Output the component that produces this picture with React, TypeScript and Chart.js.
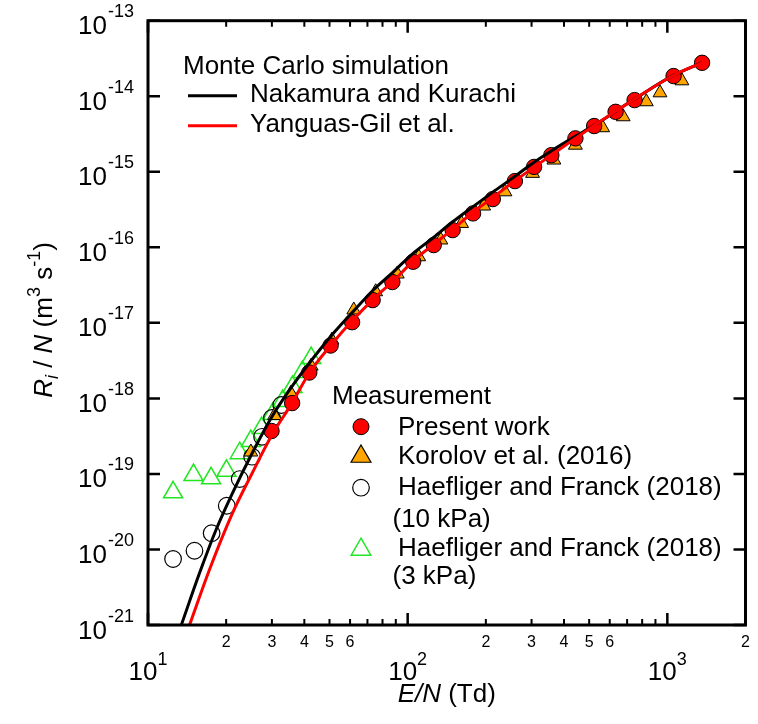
import React, { useEffect, useRef } from "react";
import { Chart, registerables } from "chart.js";

Chart.register(...registerables);

// ---------- Data ----------
const presentE = [29.9, 35.9, 41.8, 50.5, 61.1, 73.3, 87.3, 105, 126, 149, 178.6, 212.8, 258.8, 306.8, 357.5, 442.6, 522.6, 632, 748, 1057, 1361];
const presentR = [3.7e-19, 8.67e-19, 2.2e-18, 5.01e-18, 1.02e-17, 2.0e-17, 3.47e-17, 6.44e-17, 1.07e-16, 1.69e-16, 2.81e-16, 4.35e-16, 7.53e-16, 1.16e-15, 1.66e-15, 2.77e-15, 4.03e-15, 6.22e-15, 8.89e-15, 1.85e-14, 2.77e-14];

const korolovE = [24.9, 30.7, 35.5, 42.5, 51.1, 62.0, 75.3, 91.2, 110.3, 134.2, 161.3, 196.2, 237, 302.7, 365.7, 442.4, 563.6, 676, 830, 937, 1138];
const korolovR = [1.95e-19, 5.93e-19, 1.17e-18, 2.68e-18, 5.92e-18, 1.48e-17, 2.58e-17, 4.43e-17, 7.5e-17, 1.25e-16, 2.07e-16, 3.52e-16, 5.43e-16, 9.53e-16, 1.43e-15, 2.25e-15, 3.83e-15, 5.35e-15, 8.45e-15, 1.11e-14, 1.6e-14];

const haef10E = [12.49, 15.1, 17.58, 20.1, 22.55, 25.18, 27.5, 30.0, 32.6];
const haef10R = [7.48e-21, 9.62e-21, 1.64e-20, 3.79e-20, 8.55e-20, 1.69e-19, 3.1e-19, 5.5e-19, 8.17e-19];

const haef3E = [12.49, 14.97, 17.49, 20.05, 22.55, 24.9, 27.4, 30.2, 33.0, 36.0, 39.3, 42.5];
const haef3R = [5.7e-20, 9.66e-20, 8.75e-20, 1.1e-19, 1.88e-19, 2.72e-19, 4.05e-19, 6.2e-19, 9.2e-19, 1.41e-18, 2.23e-18, 3.42e-18];

const nakE = [13.44, 15.78, 18.27, 21.13, 25.18, 30.0, 35.8, 43.9, 52.24, 61.87, 73.74, 87.86, 104.7, 125.8, 148.6, 178.6, 212.8, 258.1, 304.8, 356.8, 440.4, 524.8, 745, 1058, 1355];
const nakR = [1e-21, 4.83e-21, 1.81e-20, 5.53e-20, 1.88e-19, 5.71e-19, 1.43e-18, 3.64e-18, 7.55e-18, 1.43e-17, 2.72e-17, 4.7e-17, 8.26e-17, 1.35e-16, 2.16e-16, 3.46e-16, 5.38e-16, 8.63e-16, 1.32e-15, 1.88e-15, 2.92e-15, 4.15e-15, 9.1e-15, 1.9e-14, 2.77e-14];

const yangE = [14.45, 17.23, 21.13, 25.18, 30.0, 35.8, 41.8, 50.7, 61.5, 74.5, 88.8, 105.9, 126.2, 150.4, 179.2, 213.6, 261.3, 349, 442.6, 628, 1063, 1361];
const yangR = [1e-21, 5.35e-21, 3.0e-20, 1.02e-19, 3.27e-19, 8.59e-19, 2.17e-18, 5.08e-18, 1.09e-17, 2.13e-17, 3.68e-17, 6.78e-17, 1.1e-16, 1.78e-16, 2.93e-16, 4.62e-16, 7.76e-16, 1.57e-15, 2.77e-15, 6.22e-15, 1.91e-14, 2.77e-14];

// ---------- Ticks ----------
const yMajorTicks = [1e-21, 1e-20, 1e-19, 1e-18, 1e-17, 1e-16, 1e-15, 1e-14, 1e-13];
const yMajorExps = ["-21", "-20", "-19", "-18", "-17", "-16", "-15", "-14", "-13"];
const xMajorTicks = [10, 100, 1000];
const xMajorExps = ["1", "2", "3"];
const xMinorTicks = [20, 30, 40, 50, 60, 70, 80, 90, 200, 300, 400, 500, 600, 700, 800, 900, 2000];
const xMinorLabels = ["2", "3", "4", "5", "6", "", "", "", "2", "3", "4", "5", "6", "", "", "", "2"];

const FONT = '"Liberation Sans", Arial, Helvetica, sans-serif';

const toXY = (xs: number[], ys: number[]) => xs.map((x, i) => ({ x, y: ys[i] }));

function drawCircle(ctx: CanvasRenderingContext2D, x: number, y: number, r: number, fill: string | null, stroke: string, lw: number) {
  ctx.beginPath();
  ctx.arc(x, y, r, 0, Math.PI * 2);
  if (fill) { ctx.fillStyle = fill; ctx.fill(); }
  ctx.lineWidth = lw; ctx.strokeStyle = stroke; ctx.stroke();
}
function drawTri(ctx: CanvasRenderingContext2D, x: number, y: number, r: number, fill: string | null, stroke: string, lw: number) {
  ctx.beginPath();
  let a = 0;
  ctx.moveTo(x + Math.sin(a) * r, y - Math.cos(a) * r);
  a += (2 * Math.PI) / 3;
  ctx.lineTo(x + Math.sin(a) * r, y - Math.cos(a) * r);
  a += (2 * Math.PI) / 3;
  ctx.lineTo(x + Math.sin(a) * r, y - Math.cos(a) * r);
  ctx.closePath();
  if (fill) { ctx.fillStyle = fill; ctx.fill(); }
  ctx.lineWidth = lw; ctx.strokeStyle = stroke; ctx.stroke();
}

const decorPlugin = {
  id: "decor",
  afterDatasetsDraw(chart: any) {
    const ctx: CanvasRenderingContext2D = chart.ctx;
    const { left, right, top, bottom } = chart.chartArea;
    const xs = chart.scales.x;
    const ys = chart.scales.y;
    ctx.save();
    ctx.strokeStyle = "#000";
    ctx.lineWidth = 3;
    ctx.strokeRect(left, top, right - left, bottom - top);

    ctx.lineWidth = 2.5;
    ctx.beginPath();
    yMajorTicks.forEach((v) => {
      const py = ys.getPixelForValue(v);
      ctx.moveTo(left, py); ctx.lineTo(left + 12, py);
      ctx.moveTo(right, py); ctx.lineTo(right - 12, py);
    });
    xMajorTicks.forEach((v) => {
      const px = xs.getPixelForValue(v);
      ctx.moveTo(px, bottom); ctx.lineTo(px, bottom - 12);
      ctx.moveTo(px, top); ctx.lineTo(px, top + 12);
    });
    ctx.stroke();
    ctx.lineWidth = 2;
    ctx.beginPath();
    xMinorTicks.forEach((v) => {
      const px = xs.getPixelForValue(v);
      ctx.moveTo(px, bottom); ctx.lineTo(px, bottom - 6);
      ctx.moveTo(px, top); ctx.lineTo(px, top + 6);
    });
    ctx.stroke();

    ctx.fillStyle = "#000";
    ctx.textBaseline = "alphabetic";
    ctx.textAlign = "left";

    yMajorTicks.forEach((v, i) => {
      const py = ys.getPixelForValue(v);
      ctx.font = `18px ${FONT}`;
      const sw = ctx.measureText(yMajorExps[i]).width;
      ctx.font = `26px ${FONT}`;
      const bw = ctx.measureText("10").width;
      const rx = 134;
      ctx.fillText("10", rx - sw - 1 - bw, py + 13.5);
      ctx.font = `18px ${FONT}`;
      ctx.fillText(yMajorExps[i], rx - sw, py - 3.5);
    });

    xMajorTicks.forEach((v, i) => {
      const px = xs.getPixelForValue(v);
      ctx.font = `26px ${FONT}`;
      const bw = ctx.measureText("10").width;
      ctx.font = `18px ${FONT}`;
      const sw = ctx.measureText(xMajorExps[i]).width;
      const x0 = px - (bw + sw) / 2;
      ctx.font = `26px ${FONT}`;
      ctx.fillText("10", x0, 680);
      ctx.font = `18px ${FONT}`;
      ctx.fillText(xMajorExps[i], x0 + bw, 665);
    });

    ctx.font = `16px ${FONT}`;
    ctx.textAlign = "center";
    xMinorTicks.forEach((v, i) => {
      if (!xMinorLabels[i]) return;
      const px = xs.getPixelForValue(v);
      ctx.fillText(xMinorLabels[i], px, 647);
    });

    ctx.textAlign = "left";
    ctx.font = `italic 26px ${FONT}`;
    const w1 = ctx.measureText("E/N").width;
    ctx.font = `26px ${FONT}`;
    const w2 = ctx.measureText(" (Td)").width;
    const cx = (left + right) / 2;
    const tx0 = cx - (w1 + w2) / 2;
    ctx.font = `italic 26px ${FONT}`;
    ctx.fillText("E/N", tx0, 701.5);
    ctx.font = `26px ${FONT}`;
    ctx.fillText(" (Td)", tx0 + w1, 701.5);

    const segs: [string, string, number][] = [
      ["R", `italic 26px ${FONT}`, 0],
      ["i", `italic 18px ${FONT}`, 6],
      [" / ", `26px ${FONT}`, 0],
      ["N", `italic 26px ${FONT}`, 0],
      [" (m", `26px ${FONT}`, 0],
      ["3", `18px ${FONT}`, -12],
      [" s", `26px ${FONT}`, 0],
      ["-1", `18px ${FONT}`, -12],
      [")", `26px ${FONT}`, 0],
    ];
    let total = 0;
    segs.forEach(([t, f]) => { ctx.font = f; total += ctx.measureText(t).width; });
    ctx.save();
    ctx.translate(51.5, 320);
    ctx.rotate(-Math.PI / 2);
    let sx = -total / 2;
    segs.forEach(([t, f, dy]) => {
      ctx.font = f;
      ctx.fillText(t, sx, dy);
      sx += ctx.measureText(t).width;
    });
    ctx.restore();

    ctx.font = `26px ${FONT}`;
    ctx.fillText("Monte Carlo simulation", 183, 73.5);
    ctx.lineWidth = 3;
    ctx.strokeStyle = "#000";
    ctx.beginPath(); ctx.moveTo(188, 95.7); ctx.lineTo(237, 95.7); ctx.stroke();
    ctx.fillText("Nakamura and Kurachi", 250, 102);
    ctx.strokeStyle = "#ff0000";
    ctx.beginPath(); ctx.moveTo(188, 125.7); ctx.lineTo(237, 125.7); ctx.stroke();
    ctx.fillText("Yanguas-Gil et al.", 250, 132);

    ctx.fillText("Measurement", 332, 403.5);
    drawCircle(ctx, 361, 426.7, 8, "#ff0000", "#000", 1);
    ctx.fillStyle = "#000";
    ctx.fillText("Present work", 398, 434.5);
    drawTri(ctx, 361, 456.5, 11.5, "#ffa500", "#000", 1.2);
    ctx.fillStyle = "#000";
    ctx.fillText("Korolov et al. (2016)", 398, 463.5);
    drawCircle(ctx, 361, 487.7, 8.3, null, "#000", 1.2);
    ctx.fillStyle = "#000";
    ctx.fillText("Haefliger and Franck (2018)", 398, 495);
    ctx.fillText("(10 kPa)", 392.5, 527);
    drawTri(ctx, 361, 549.5, 11.3, null, "#22e622", 1.5);
    ctx.fillStyle = "#000";
    ctx.fillText("Haefliger and Franck (2018)", 398, 555.5);
    ctx.fillText("(3 kPa)", 392.5, 583.5);

    ctx.restore();
  },
};

export default function App() {
  const ref = useRef<HTMLCanvasElement | null>(null);
  useEffect(() => {
    if (!ref.current) return;
    const chart = new Chart(ref.current, {
      type: "scatter",
      data: {
        datasets: [
          {
            label: "Yanguas-Gil et al.",
            type: "line",
            data: toXY(yangE, yangR),
            borderColor: "#ff0000",
            borderWidth: 3,
            pointRadius: 0,
            showLine: true,
            fill: false,
            cubicInterpolationMode: "monotone",
            order: 0,
          },
          {
            label: "Nakamura and Kurachi",
            type: "line",
            data: toXY(nakE, nakR),
            borderColor: "#000000",
            borderWidth: 3,
            pointRadius: 0,
            showLine: true,
            fill: false,
            cubicInterpolationMode: "monotone",
            order: 1,
          },
          {
            label: "Present work",
            data: toXY(presentE, presentR),
            pointStyle: "circle",
            pointRadius: 7.7,
            backgroundColor: "#ff0000",
            borderColor: "#000",
            borderWidth: 1,
            order: 2,
          },
          {
            label: "Korolov et al. (2016)",
            data: toXY(korolovE, korolovR),
            pointStyle: "triangle",
            pointRadius: 8,
            backgroundColor: "#ffa500",
            borderColor: "#000",
            borderWidth: 1,
            order: 3,
          },
          {
            label: "Haefliger and Franck (2018) (10 kPa)",
            data: toXY(haef10E, haef10R),
            pointStyle: "circle",
            pointRadius: 8.3,
            backgroundColor: "rgba(0,0,0,0)",
            borderColor: "#000",
            borderWidth: 1.2,
            order: 4,
          },
          {
            label: "Haefliger and Franck (2018) (3 kPa)",
            data: toXY(haef3E, haef3R),
            pointStyle: "triangle",
            pointRadius: 11,
            backgroundColor: "rgba(0,0,0,0)",
            borderColor: "#22e622",
            borderWidth: 1.5,
            order: 5,
          },
        ],
      },
      options: {
        responsive: false,
        animation: false,
        devicePixelRatio: 1,
        layout: { padding: { left: 148, top: 20.7, right: 5.3, bottom: 99 } },
        plugins: { legend: { display: false }, tooltip: { enabled: false } },
        scales: {
          x: { type: "logarithmic", min: 10, max: 2000, display: false },
          y: { type: "logarithmic", min: 1e-21, max: 1e-13, display: false },
        },
      },
      plugins: [decorPlugin],
    } as any);
    return () => chart.destroy();
  }, []);
  return (
    <div style={{ position: "absolute", left: 0, top: 0, width: 758, height: 724, background: "#fff" }}>
      <canvas ref={ref} width={758} height={724} style={{ width: 758, height: 724 }} />
    </div>
  );
}
